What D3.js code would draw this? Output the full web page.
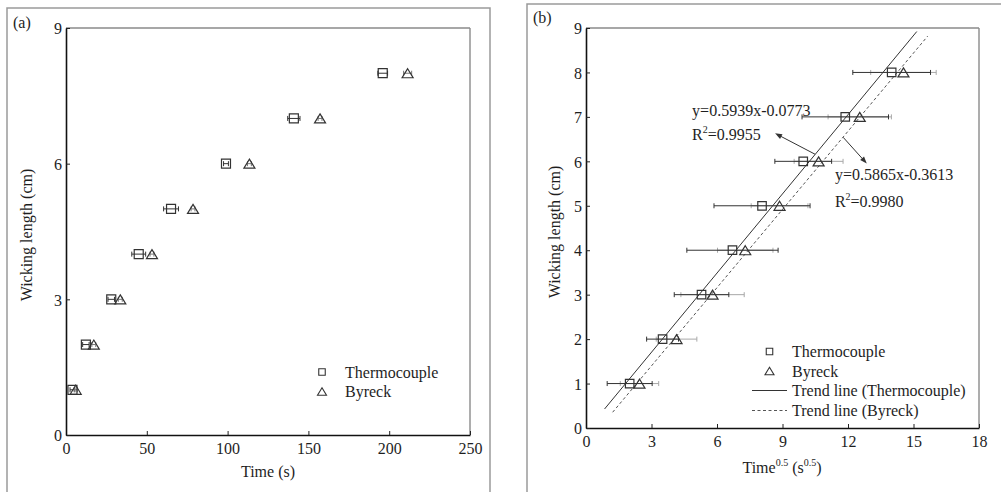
<!DOCTYPE html>
<html>
<head>
<meta charset="utf-8">
<script src="https://cdn.jsdelivr.net/npm/d3@7"></script>
<style>
  html, body { margin: 0; padding: 0; background: #fff; }
  svg { display: block; }
  text { font-family: "Liberation Serif", "Times New Roman", serif; fill: #1e1e1e; }
</style>
</head>
<body>
<svg id="chart" width="1001" height="492"></svg>
<script>
// Wicking length reached (cm)
const lengths = [1, 2, 3, 4, 5, 6, 7, 8];
// Time to reach each length (s)
const timeThermo = [4, 12.3, 28, 45, 65, 99, 141, 196];
const timeByreck = [6, 17.2, 33.6, 53.2, 78.6, 113.5, 157.2, 211.4];
// Time error (s), panel (a)
const errTimeThermo = [1.5, 2, 2, 4.3, 4.6, 1.5, 3.8, 3];
const errTimeByreck = [1, 1.2, 1.2, 1.2, 1.2, 1.2, 1.2, 2.5];
// Error on Time^0.5, panel (b)
const errRootThermo = [1.03, 0.73, 1.25, 2.09, 2.2, 1.3, 1.98, 1.78];
const errRootByreck = [0.88, 0.93, 1.45, 1.27, 1.3, 1.12, 1.45, 1.5];
// Linear fits of length against Time^0.5
const fitSlope = [0.5939, 0.5865];
const fitIntercept = [-0.0773, -0.3613];
const fitR2 = ["0.9955", "0.9980"];
const fitFrom = [0.85, 1.22];
const fitTo = [15.15, 15.65];
// Axis ticks
const ticksTime = [0, 50, 100, 150, 200, 250];
const ticksLenA = [0, 3, 6, 9];
const ticksRoot = [0, 3, 6, 9, 12, 15, 18];
const ticksLenB = [0, 1, 2, 3, 4, 5, 6, 7, 8, 9];
const seriesNames = ["Thermocouple", "Byreck"];

const svg = d3.select("#chart");
const dark = "#333", light = "#a8a8a8";

function squarePath(s) { const h = s / 2; return `M${-h},${-h}h${s}v${s}h${-s}Z`; }
function trianglePath(w) {
  const h = w * 0.82;
  return `M0,${-h / 2}L${w / 2},${h / 2}L${-w / 2},${h / 2}Z`;
}

function frame(g, x, y) {
  const [x0, x1] = x.range(), [y0, y1] = y.range();
  g.append("line").attr("x1", x0).attr("x2", x1).attr("y1", y1).attr("y2", y1)
    .attr("stroke", "#8a8a8a").attr("stroke-width", 1.4);
  g.append("line").attr("x1", x1).attr("x2", x1).attr("y1", y1).attr("y2", y0)
    .attr("stroke", "#8a8a8a").attr("stroke-width", 1.4);
}

function axes(g, x, y, xt, yt) {
  const xa = g.append("g").attr("transform", `translate(0,${y.range()[0]})`)
    .call(d3.axisBottom(x).tickValues(xt).tickSizeInner(-4).tickSizeOuter(0).tickPadding(8));
  const ya = g.append("g").attr("transform", `translate(${x.range()[0]},0)`)
    .call(d3.axisLeft(y).tickValues(yt).tickSizeInner(-4).tickSizeOuter(0).tickPadding(4));
  [xa, ya].forEach(a => {
    a.select(".domain").attr("stroke", "#111").attr("stroke-width", 1.6);
    a.selectAll(".tick line").attr("stroke", "#222");
    a.selectAll("text").attr("font-size", 16).attr("font-family", "Liberation Serif").attr("fill", "#1e1e1e");
  });
  xa.selectAll("text").attr("dy", "0.71em");
  ya.selectAll("text").attr("dy", "0.36em");
}

function errorBars(g, x, y, xs, errs, color) {
  const cap = 2.5;
  lengths.forEach((v, i) => {
    const yy = y(v), xl = x(xs[i] - errs[i]), xr = x(xs[i] + errs[i]);
    g.append("line").attr("x1", xl).attr("x2", xr).attr("y1", yy).attr("y2", yy)
      .attr("stroke", color).attr("stroke-width", 1);
    [xl, xr].forEach(xe => g.append("line").attr("x1", xe).attr("x2", xe)
      .attr("y1", yy - cap).attr("y2", yy + cap).attr("stroke", color).attr("stroke-width", 1));
  });
}

function markers(g, x, y, xs, path) {
  g.selectAll(null).data(lengths).join("path")
    .attr("transform", (v, i) => `translate(${x(xs[i])},${y(v)})`)
    .attr("d", path).attr("fill", "none").attr("stroke", dark).attr("stroke-width", 1.2);
}

// Panel outlines
svg.append("path").attr("d", "M7,500V8H490V500").attr("fill", "none")
  .attr("stroke", "#9a9a9a").attr("stroke-width", 1.5);
svg.append("path").attr("d", "M527,500V4H1010").attr("fill", "none")
  .attr("stroke", "#9a9a9a").attr("stroke-width", 1.5);

// ---------- Panel (a): length vs time ----------
const xa = d3.scaleLinear().domain([0, 250]).range([66, 470]);
const ya = d3.scaleLinear().domain([0, 9]).range([435, 28]);
const ga = svg.append("g");
frame(ga, xa, ya);
axes(ga, xa, ya, ticksTime, ticksLenA);
errorBars(ga, xa, ya, timeThermo, errTimeThermo, dark);
errorBars(ga, xa, ya, timeByreck, errTimeByreck, "#777");
markers(ga, xa, ya, timeThermo, squarePath(9));
markers(ga, xa, ya, timeByreck, trianglePath(11));

svg.append("text").attr("x", 13).attr("y", 28).attr("font-size", 16).text("(a)");
svg.append("text").attr("x", 268).attr("y", 477).attr("text-anchor", "middle")
  .attr("font-size", 16).text("Time (s)");
svg.append("text").attr("transform", "translate(32,235) rotate(-90)")
  .attr("text-anchor", "middle").attr("font-size", 16).text("Wicking length (cm)");

// legend (a)
const la = svg.append("g");
la.append("path").attr("transform", "translate(322,372)").attr("d", squarePath(6.5))
  .attr("fill", "none").attr("stroke", dark).attr("stroke-width", 1.1);
la.append("path").attr("transform", "translate(322,391.5)").attr("d", trianglePath(9))
  .attr("fill", "none").attr("stroke", dark).attr("stroke-width", 1.1);
la.append("text").attr("x", 345).attr("y", 378).attr("font-size", 16).text(seriesNames[0]);
la.append("text").attr("x", 345).attr("y", 397).attr("font-size", 16).text(seriesNames[1]);

// ---------- Panel (b): length vs Time^0.5 ----------
const rootThermo = timeThermo.map(Math.sqrt);
const rootByreck = timeByreck.map(Math.sqrt);
const xb = d3.scaleLinear().domain([0, 18]).range([586, 979]);
const yb = d3.scaleLinear().domain([0, 9]).range([428, 28]);
const gb = svg.append("g");
frame(gb, xb, yb);
axes(gb, xb, yb, ticksRoot, ticksLenB);

errorBars(gb, xb, yb, rootByreck, errRootByreck, light);
errorBars(gb, xb, yb, rootThermo, errRootThermo, dark);

// trend lines
const dashes = [null, "3,2.5"];
[0, 1].forEach(k => {
  gb.append("line")
    .attr("x1", xb(fitFrom[k])).attr("y1", yb(fitSlope[k] * fitFrom[k] + fitIntercept[k]))
    .attr("x2", xb(fitTo[k])).attr("y2", yb(fitSlope[k] * fitTo[k] + fitIntercept[k]))
    .attr("stroke", k ? "#555" : "#333").attr("stroke-width", 1)
    .attr("stroke-dasharray", dashes[k]);
});

markers(gb, xb, yb, rootThermo, squarePath(8.5));
markers(gb, xb, yb, rootByreck, trianglePath(11));

// fit annotations
function fitLabel(k, xv, yv, yv2) {
  const s = Math.abs(fitIntercept[k]).toFixed(4);
  gb.append("text").attr("x", xb(xv)).attr("y", yb(yv)).attr("font-size", 16)
    .text(`y=${fitSlope[k].toFixed(4)}x-${s}`);
  const t = gb.append("text").attr("x", xb(xv)).attr("y", yb(yv2)).attr("font-size", 16);
  t.append("tspan").text("R");
  t.append("tspan").attr("font-size", 10).attr("dy", -7).text("2");
  t.append("tspan").attr("dy", 7).text("=" + fitR2[k]);
}
fitLabel(0, 4.86, 7.02, 6.47);
fitLabel(1, 11.4, 5.58, 4.97);

function arrow(x1, y1, x2, y2) {
  const p1 = [xb(x1), yb(y1)], p2 = [xb(x2), yb(y2)];
  const a = Math.atan2(p2[1] - p1[1], p2[0] - p1[0]);
  const L = 7, W = 2.6;
  gb.append("line").attr("x1", p1[0]).attr("y1", p1[1])
    .attr("x2", p2[0] - Math.cos(a) * L * 0.6).attr("y2", p2[1] - Math.sin(a) * L * 0.6)
    .attr("stroke", "#333").attr("stroke-width", 1);
  const bx = p2[0] - Math.cos(a) * L, by = p2[1] - Math.sin(a) * L;
  gb.append("path").attr("d",
    `M${p2[0]},${p2[1]}L${bx - Math.sin(a) * W},${by + Math.cos(a) * W}L${bx + Math.sin(a) * W},${by - Math.cos(a) * W}Z`)
    .attr("fill", "#333");
}
arrow(10.49, 6.16, 8.66, 6.63);
arrow(11.78, 6.54, 12.86, 5.95);

svg.append("text").attr("x", 533).attr("y", 23).attr("font-size", 16).text("(b)");
const tb = svg.append("text").attr("x", 782).attr("y", 473).attr("text-anchor", "middle").attr("font-size", 16);
tb.append("tspan").text("Time");
tb.append("tspan").attr("font-size", 10).attr("dy", -7).text("0.5");
tb.append("tspan").attr("dy", 7).text(" (s");
tb.append("tspan").attr("font-size", 10).attr("dy", -7).text("0.5");
tb.append("tspan").attr("dy", 7).text(")");
svg.append("text").attr("transform", "translate(560,232) rotate(-90)")
  .attr("text-anchor", "middle").attr("font-size", 16).text("Wicking length (cm)");

// legend (b)
const lb = svg.append("g");
lb.append("path").attr("transform", "translate(769.5,351.5)").attr("d", squarePath(6.5))
  .attr("fill", "none").attr("stroke", dark).attr("stroke-width", 1.1);
lb.append("path").attr("transform", "translate(769.5,371)").attr("d", trianglePath(9))
  .attr("fill", "none").attr("stroke", dark).attr("stroke-width", 1.1);
lb.append("line").attr("x1", 752).attr("x2", 787).attr("y1", 390.5).attr("y2", 390.5)
  .attr("stroke", "#333").attr("stroke-width", 1);
lb.append("line").attr("x1", 752).attr("x2", 787).attr("y1", 410.5).attr("y2", 410.5)
  .attr("stroke", "#555").attr("stroke-width", 1).attr("stroke-dasharray", "3,2.5");
const legB = [seriesNames[0], seriesNames[1], "Trend line (Thermocouple)", "Trend line (Byreck)"];
legB.forEach((s, i) => lb.append("text").attr("x", 792).attr("y", 357 + i * 19.7)
  .attr("font-size", 16).text(s));
</script>
</body>
</html>
